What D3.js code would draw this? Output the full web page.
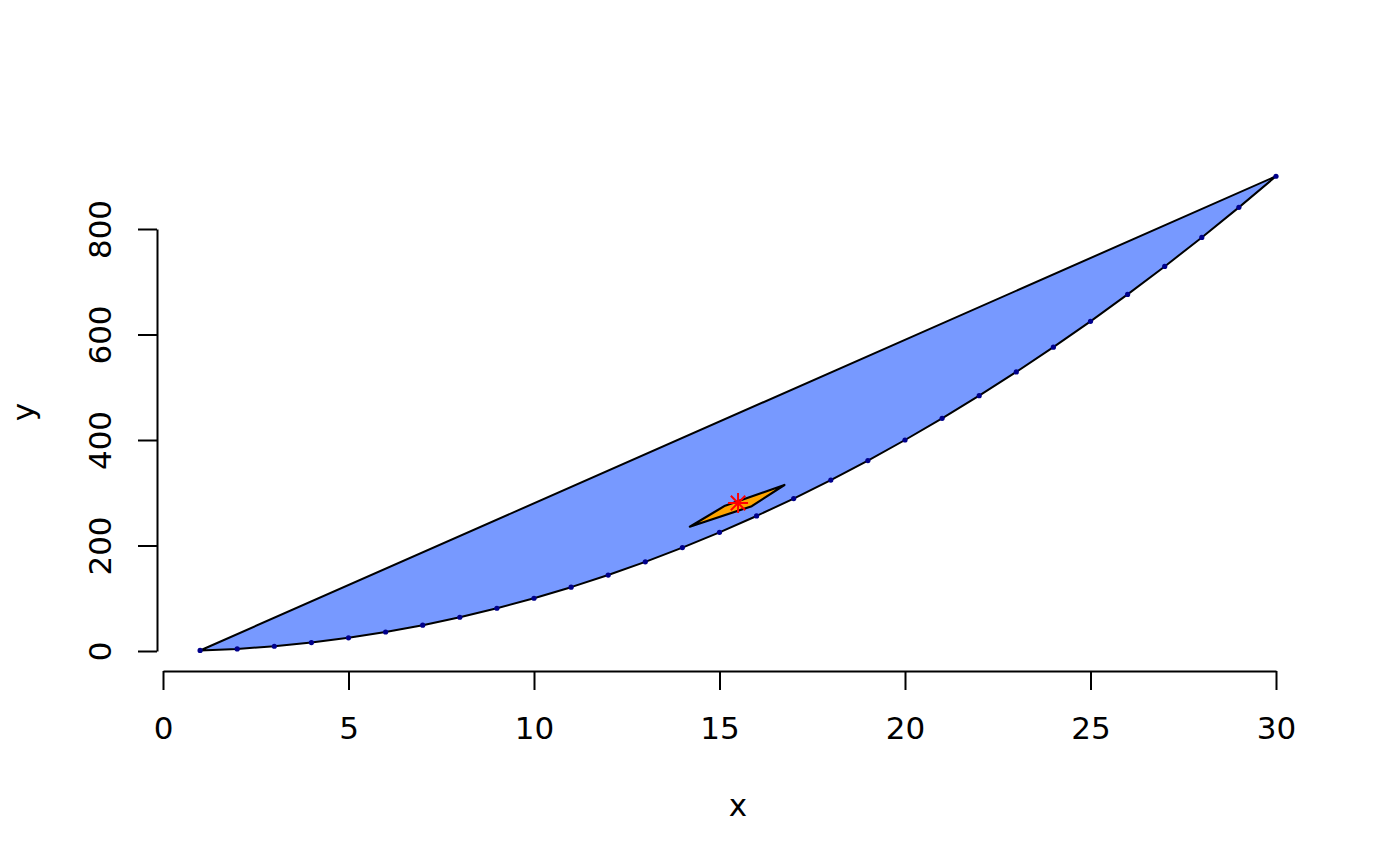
<!DOCTYPE html>
<html><head><meta charset="utf-8">
<script src="https://cdn.jsdelivr.net/npm/d3@7"></script>
<style>html,body{margin:0;padding:0;background:#fff;}svg{display:block;}</style>
</head><body>
<script>
const xValues = Array.from({length:30},(_,i)=>i+1);
const yValues = [1,4,9,16,25,36,49,64,81,100,121,144,169,196,225,256,289,324,361,400,441,484,529,576,625,676,729,784,841,900];
const innerX = [14.20, 15.15, 16.75, 15.87];
const innerY = [235.6, 275.5, 314.7, 274.5];
const centroid = [15.5, 280.6];
const xTicks = [0,5,10,15,20,25,30];
const yTicks = [0,200,400,600,800];

const W=1400,H=866,FS=31;
const svg=d3.select("body").append("svg").attr("width",W).attr("height",H);
const x=d3.scaleLinear().domain([0,30]).range([163,1276]);
const y=d3.scaleLinear().domain([0,800]).range([651,229]);
const font="DejaVu Sans";

const pts=xValues.map((v,i)=>[v,yValues[i]]);
const line=d3.line().x(d=>x(d[0])).y(d=>y(d[1]));
svg.append("path").attr("d",line(pts)+"Z").attr("fill","#7799FF").attr("stroke","black").attr("stroke-width",2).attr("stroke-linejoin","round");
const inner=innerX.map((v,i)=>[v,innerY[i]]);
svg.append("path").attr("d",line(inner)+"Z").attr("fill","#FFA500").attr("stroke","black").attr("stroke-width",2.2).attr("stroke-linejoin","round");
svg.selectAll("circle.p").data(pts).enter().append("circle")
  .attr("cx",d=>x(d[0])).attr("cy",d=>y(d[1])).attr("r",2.6).attr("fill","#00008B");
const cx=x(centroid[0]),cy=y(centroid[1]),s=10;
const star=svg.append("g").attr("stroke","red").attr("stroke-width",2);
star.append("line").attr("x1",cx-s).attr("x2",cx+s).attr("y1",cy).attr("y2",cy);
star.append("line").attr("x1",cx).attr("x2",cx).attr("y1",cy-s).attr("y2",cy+s);
const d2=s*0.72;
star.append("line").attr("x1",cx-d2).attr("x2",cx+d2).attr("y1",cy-d2).attr("y2",cy+d2);
star.append("line").attr("x1",cx-d2).attr("x2",cx+d2).attr("y1",cy+d2).attr("y2",cy-d2);

const xa=svg.append("g").attr("transform","translate(0,671)")
  .call(d3.axisBottom(x).tickValues(xTicks).tickSize(19).tickPadding(0).tickSizeOuter(0));
xa.select(".domain").attr("stroke","black").attr("stroke-width",2);
xa.selectAll(".tick line").attr("stroke","black").attr("stroke-width",2);
xa.selectAll(".tick text").attr("font-family",font).attr("font-size",FS).attr("fill","black").attr("dy",null).attr("y",68);
const ya=svg.append("g").attr("transform","translate(157,0)")
  .call(d3.axisLeft(y).tickValues(yTicks).tickSize(19).tickSizeOuter(0));
ya.select(".domain").attr("stroke","black").attr("stroke-width",2);
ya.selectAll(".tick line").attr("stroke","black").attr("stroke-width",2);
ya.selectAll(".tick text").attr("font-family",font).attr("font-size",FS).attr("fill","black")
  .attr("x",null).attr("dy",null).attr("text-anchor","middle")
  .attr("transform","translate(-46,0) rotate(-90)");
svg.append("text").attr("x",738).attr("y",816).attr("text-anchor","middle").attr("font-family",font).attr("font-size",FS).text("x");
svg.append("text").attr("transform","translate(34,412) rotate(-90)").attr("text-anchor","middle").attr("font-family",font).attr("font-size",FS).text("y");
</script>
</body></html>
